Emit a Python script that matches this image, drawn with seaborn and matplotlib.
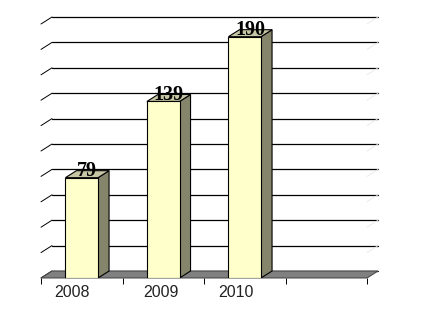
import matplotlib
matplotlib.use("Agg")
import matplotlib.pyplot as plt
import seaborn as sns
import pandas as pd
from matplotlib.patches import Polygon

years = ["2008", "2009", "2010"]
values = [79, 139, 190]
grid_values = list(range(0, 201, 20))
label_pos = [-0.12, 0.97, 1.89]

sns.set_theme(style="white")
plt.rcParams['font.family'] = ['Liberation Sans', 'DejaVu Sans']

W, H = 421, 335
fig = plt.figure(figsize=(W / 100, H / 100), dpi=100)
px_cat = 81.5
px_val = 1.27
dx = 11 / px_cat
dy = 7 / px_val
xmin, xmax = -0.5, 3.5 + dx
ymin, ymax = 0, 212
left_px, bottom_px = 41, 278
ax = fig.add_axes([left_px / W, (H - bottom_px) / H,
                   (xmax - xmin) * px_cat / W, (ymax - ymin) * px_val / H])

df = pd.DataFrame({"year": years, "value": values})
sns.barplot(data=df, x="year", y="value", ax=ax, color="#FFFFCC",
            saturation=1, width=0.4, edgecolor="black", linewidth=0.8, zorder=4)

ax.set_xlim(xmin, xmax)
ax.set_ylim(ymin, ymax)

# back wall gridlines and left depth ticks
for v in grid_values:
    ax.plot([-0.5 + dx, 3.5 + dx], [v + dy, v + dy], color="black", lw=0.9, zorder=1,
            clip_on=False)
    ax.plot([-0.5, -0.5 + dx], [v, v + dy], color="black", lw=0.7, zorder=1, clip_on=False)
    ax.plot([3.5, 3.5 + dx], [v, v + dy], color="#e8e8e8", lw=0.6, zorder=1, clip_on=False)

# floor
floor = Polygon([(-0.5, 0), (3.5, 0), (3.5 + dx, dy), (-0.5 + dx, dy)], closed=True,
                facecolor="#808080", edgecolor="#404040", lw=0.7, zorder=2, clip_on=False)
ax.add_patch(floor)

# 3D faces of bars
for p in list(ax.patches):
    if p is floor:
        continue
    x, w, h = p.get_x(), p.get_width(), p.get_height()
    side = Polygon([(x + w, 0), (x + w + dx, dy), (x + w + dx, h + dy), (x + w, h)],
                   closed=True, facecolor="#85856B", edgecolor="black", lw=0.8, zorder=3)
    top = Polygon([(x, h), (x + w, h), (x + w + dx, h + dy), (x + dx, h + dy)],
                  closed=True, facecolor="#C6C6A4", edgecolor="black", lw=0.8, zorder=3)
    ax.add_patch(side)
    ax.add_patch(top)
    ax.text(x + w / 2 + dx / 2, h + 1.0, f"{int(round(h))}", ha="center", va="baseline",
            fontsize=14.5, fontweight="bold", family=["Liberation Serif", "DejaVu Serif"],
            color="black", zorder=6, clip_on=False)

for s in ax.spines.values():
    s.set_visible(False)
ax.set_xlabel("")
ax.set_ylabel("")
ax.set_yticks([])
ax.set_xticks(label_pos)
ax.set_xticklabels(years, fontsize=11.5, color="#222222")
ax.tick_params(axis="x", which="major", length=0, pad=5)
ax.set_xticks([-0.5, 0.5, 1.5, 2.5, 3.5], minor=True)
ax.tick_params(axis="x", which="minor", length=4, width=0.7, color="black",
               direction="out", bottom=True)

fig.savefig("out.png", dpi=100)
